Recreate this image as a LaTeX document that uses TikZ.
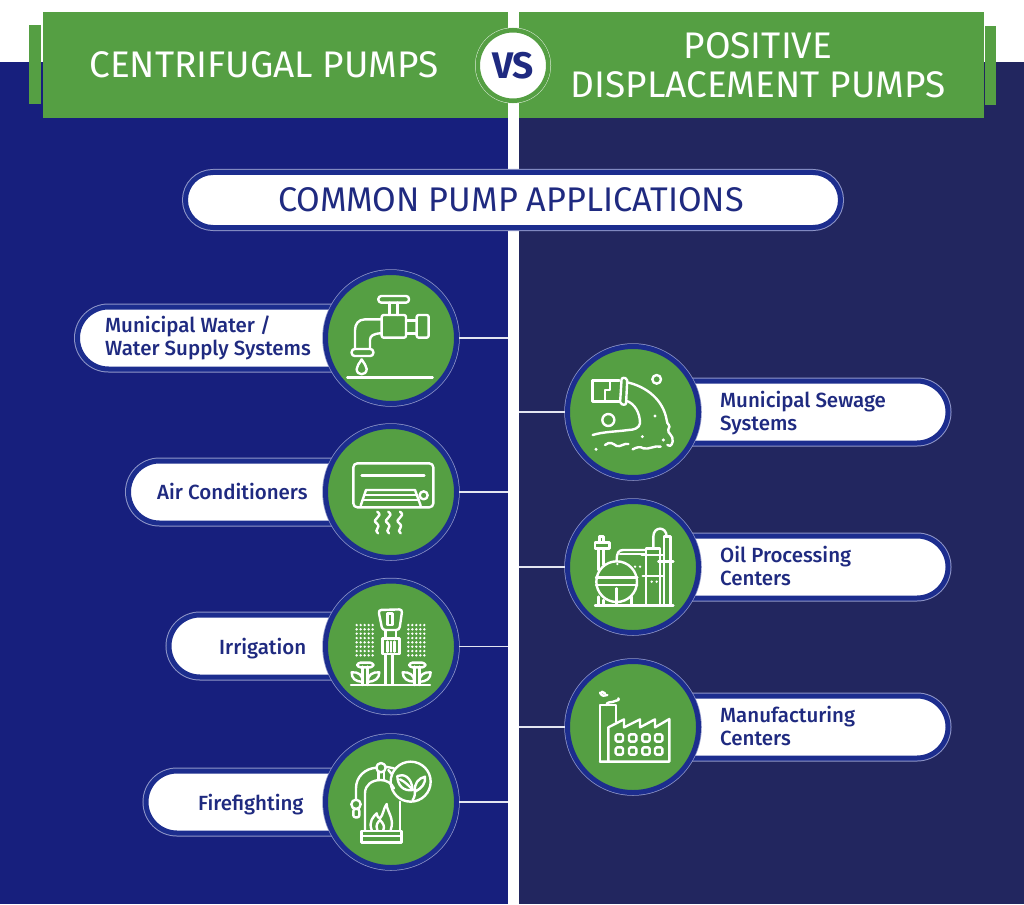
\documentclass[tikz,border=0pt]{standalone}
\usepackage{fontspec}
\setmainfont{Fira Sans}
\newfontfamily\labelfont{Fira Sans Medium}
\usetikzlibrary{shapes.misc}
\definecolor{leftblue}{HTML}{171F7D}
\definecolor{rightblue}{HTML}{22265F}
\definecolor{pumpgreen}{HTML}{559F43}
\definecolor{ringblue}{HTML}{1C2D8E}
\definecolor{textblue}{HTML}{1F2A80}
\definecolor{paleline}{HTML}{8F96C8}
\tikzset{
  header/.style={rectangle, fill=pumpgreen, draw=none, inner sep=0pt},
  headtext/.style={white, align=center, inner sep=0pt, font=\fontsize{37}{39}\selectfont},
  pill/.style={rounded rectangle, fill=white, draw=ringblue, line width=5pt, inner sep=0pt,
    minimum height=62pt, preaction={draw=paleline, line width=7pt}},
  pilltext/.style={textblue, align=left, inner sep=0pt, anchor=west, font=\labelfont\fontsize{20.5}{23}\selectfont},
  badge/.style={circle, fill=pumpgreen, draw=ringblue, line width=5pt, inner sep=0pt,
    minimum size=131pt, preaction={draw=paleline, line width=6.5pt}},
  link/.style={white!75!paleline, line width=1.2pt},
  icon/.style={white, line width=2.4pt, line cap=round, line join=round},
}
\begin{document}
\begin{tikzpicture}[x=1pt, y=-1pt]
\useasboundingbox (0,0) rectangle (1024,904);
\fill[white] (0,0) rectangle (1024,904);
\fill[leftblue] (0,62.5) rectangle (508,904);
\fill[rightblue] (519,62.5) rectangle (1024,904);

\node[header, minimum width=12pt, minimum height=79pt] (tabl) at (35,64.5) {};
\node[header, minimum width=11pt, minimum height=79pt] (tabr) at (990.5,65.5) {};
\node[header, minimum width=465pt, minimum height=106pt] (headl) at (275.5,65) {};
\node[header, minimum width=465pt, minimum height=106pt] (headr) at (751.5,65) {};
\node[headtext] (titlel) at (264,65) {CENTRIFUGAL PUMPS};
\node[headtext] (titler) at (758,65) {POSITIVE\\DISPLACEMENT PUMPS};
\node[circle, fill=white, draw=pumpgreen, line width=4.5pt, minimum size=70.5pt, inner sep=0pt,
  preaction={draw=white!80!pumpgreen, line width=5.5pt}, text=textblue, font=\bfseries\fontsize{37}{37}\selectfont] (vs) at (513,65.5) {VS};

\node[pill, minimum width=655pt, minimum height=55pt] (common) at (513,200) {};
\node[textblue, inner sep=0pt, font=\fontsize{34.2}{34}\selectfont] (commontext) at (511,200) {COMMON PUMP APPLICATIONS};

\coordinate (e1) at (508,338);
\coordinate (e2) at (508,492);
\coordinate (e3) at (508,646.5);
\coordinate (e4) at (508,802);
\coordinate (e5) at (519,412);
\coordinate (e6) at (519,567);
\coordinate (e7) at (519,727);

\node[pill, minimum width=322.5pt] (p1) at (238.75,338) {};
\node[pill, minimum width=271.5pt] (p2) at (264.25,492) {};
\node[pill, minimum width=231pt] (p3) at (284.5,646) {};
\node[pill, minimum width=254pt] (p4) at (273,802) {};
\node[pill, minimum width=328pt] (p5) at (784,412) {};
\node[pill, minimum width=328pt] (p6) at (784,567) {};
\node[pill, minimum width=328pt] (p7) at (784,727) {};

\node[badge] (b1) at (391,338) {};
\node[badge] (b2) at (391,492) {};
\node[badge] (b3) at (391,646.5) {};
\node[badge] (b4) at (391,802) {};
\node[badge] (b5) at (633,412) {};
\node[badge] (b6) at (633,567) {};
\node[badge] (b7) at (633,727) {};

\draw[link] (b1) -- (e1);
\draw[link] (b2) -- (e2);
\draw[link] (b3) -- (e3);
\draw[link] (b4) -- (e4);
\draw[link] (b5) -- (e5);
\draw[link] (b6) -- (e6);
\draw[link] (b7) -- (e7);

\node[pilltext] (t1) at (105,338) {Municipal Water /\\Water Supply Systems};
\node[pilltext] (t2) at (157,491.5) {Air Conditioners};
\node[pilltext] (t3) at (219,648.5) {Irrigation};
\node[pilltext] (t4) at (198,804.5) {Firefighting};
\node[pilltext] (t5) at (720,413) {Municipal Sewage\\Systems};
\node[pilltext] (t6) at (720,565.5) {Oil Processing\\Centers};
\node[pilltext] (t7) at (720,725.5) {Manufacturing\\Centers};

\begin{scope}[shift={(320,265)}, x=1/3*1pt, y=-1/3*1pt, icon]
\draw[rounded corners=3pt] (175,93) rectangle (267,113);
\draw (208,113) -- (208,150) (232,113) -- (232,150);
\draw[rounded corners=2pt] (185,150) rectangle (258,218);
\draw (258,167) -- (290,167) (258,205) -- (290,205);
\draw[rounded corners=2pt] (290,150) rectangle (326,218);
\draw (185,163) -- (135,163) .. controls (115,163) and (105,178) .. (105,195) -- (105,252);
\draw (150,252) -- (150,225) .. controls (150,213) and (160,205) .. (185,205);
\draw[rounded corners=3pt] (95,252) rectangle (160,273);
\draw (125,283) .. controls (118,296) and (110,302) .. (110,312) .. controls (110,333) and (140,333) .. (140,312) .. controls (140,302) and (132,296) .. (125,283);
\draw (82,337) -- (338,337);
\draw[rounded corners=4pt] (100,595) rectangle (340,727);
\draw (125,632) -- (313,632);
\draw (122,722) -- (138,675) -- (285,675) -- (302,722);
\draw (132,690) -- (292,690) (128,705) -- (297,705);
\draw (311,691) circle (12);
\foreach \sx in {172,205,240}
  \draw (\sx,740) .. controls (\sx+22,755) and (\sx-22,762) .. (\sx-2,775) .. controls (\sx+14,788) and (\sx-14,795) .. (\sx+2,805);
\end{scope}

\begin{scope}[shift={(320,570)}, x=1/3*1pt, y=-1/3*1pt, icon]
\draw[rounded corners=3pt] (175,120) -- (247,118) -- (238,180) -- (187,180) -- cycle;
\draw (203,130) rectangle (218,165);
\draw (197,180) -- (197,205) (228,180) -- (228,205);
\draw (188,205) rectangle (238,252);
\draw (202,215) -- (202,245) (213,215) -- (213,245) (224,215) -- (224,245);
\draw (197,252) -- (197,342) (218,252) -- (218,342);
\draw (93,345) -- (330,345);
\foreach \dy in {165,178,...,260} {
  \foreach \dx in {110,122,...,160} \fill (\dx,\dy) circle (4);
  \foreach \dx in {265,277,...,315} \fill (\dx,\dy) circle (4);
}
\draw (128,290) -- (128,345) (143,290) -- (143,345);
\draw[rounded corners=3pt] (112,278) rectangle (160,292);
\draw (128,335) .. controls (105,335) and (95,325) .. (95,307) .. controls (115,305) and (128,315) .. (128,335);
\draw (143,335) .. controls (165,335) and (178,325) .. (178,307) .. controls (158,305) and (143,315) .. (143,335);
\draw (283,290) -- (283,345) (298,290) -- (298,345);
\draw[rounded corners=3pt] (268,278) rectangle (316,292);
\draw (283,335) .. controls (262,335) and (248,325) .. (248,307) .. controls (268,305) and (283,315) .. (283,335);
\draw (298,335) .. controls (320,335) and (332,325) .. (332,307) .. controls (312,305) and (298,315) .. (298,335);
\draw (135,780) -- (135,670) .. controls (135,645) and (155,630) .. (182,630) .. controls (200,630) and (215,640) .. (222,655);
\draw (240,695) -- (240,780);
\draw (125,783) rectangle (245,817);
\draw (125,798) -- (245,798);
\draw (108,690) -- (108,655) .. controls (108,620) and (135,595) .. (170,593);
\draw (183,593) circle (14);
\draw (175,607) -- (175,630) (192,607) -- (192,630);
\draw (197,590) -- (222,595) (205,600) -- (215,612);
\draw (108,703) circle (14);
\draw[rounded corners=2pt] (100,717) rectangle (118,742);
\draw (272,635) circle (60);
\draw (155,780) .. controls (145,755) and (160,740) .. (170,730) .. controls (172,740) and (175,745) .. (180,745) .. controls (190,735) and (190,715) .. (200,702) .. controls (200,725) and (225,745) .. (212,780);
\draw (172,780) .. controls (165,765) and (175,755) .. (180,750) .. controls (190,760) and (195,770) .. (190,780);
\draw (232,618) .. controls (250,610) and (275,620) .. (278,660) .. controls (250,665) and (232,645) .. (232,618);
\draw (240,628) .. controls (255,635) and (270,650) .. (278,660);
\draw (285,665) .. controls (282,640) and (295,625) .. (315,620) .. controls (318,640) and (305,655) .. (285,665);
\draw (278,690) .. controls (285,680) and (285,670) .. (285,660);
\end{scope}

\begin{scope}[shift={(520,340)}, x=1/3*1pt, y=-1/3*1pt, icon]
\draw (298,122) -- (218,122) -- (218,185) -- (298,185);
\draw (255,185) -- (255,150) -- (270,150) -- (270,122);
\draw[rounded corners=2pt] (305,113) -- (322,115) -- (318,195) -- (300,192) -- cycle;
\draw (322,127) .. controls (380,140) and (430,180) .. (440,240) .. controls (440,255) and (455,255) .. (445,268) .. controls (440,280) and (462,285) .. (458,305) .. controls (455,320) and (445,320) .. (442,315);
\draw (318,182) .. controls (345,190) and (360,220) .. (360,250) .. controls (358,265) and (340,270) .. (325,270);
\draw (218,285) .. controls (250,275) and (290,275) .. (325,270);
\draw (265,240) circle (18);
\draw (410,118) circle (13);
\draw (255,315) .. controls (270,302) and (280,312) .. (290,318) .. controls (300,322) and (315,308) .. (325,312);
\draw (338,328) .. controls (350,322) and (360,318) .. (370,325) .. controls (385,330) and (405,315) .. (422,320);
\fill (228,328) circle (5);
\fill (405,228) circle (5);
\fill (367,290) circle (5);
\fill (430,300) circle (5);
\draw (225,797) -- (460,797);
\draw (290,725) circle (61);
\draw (228,712) -- (352,712) (228,735) -- (352,735);
\draw (235,625) -- (235,690) (250,625) -- (250,675);
\draw (238,608) -- (238,590) -- (250,590) -- (250,608);
\draw (225,608) -- (268,608) -- (268,625) -- (225,625) -- cycle;
\draw (235,770) -- (235,797) (250,780) -- (250,797) (290,745) -- (290,797) (335,770) -- (335,797);
\draw (290,660) .. controls (290,640) and (295,630) .. (310,630) -- (378,630);
\draw (300,642) -- (378,642);
\draw (378,797) -- (378,625) -- (420,625) -- (420,797);
\draw (432,797) -- (432,590) -- (452,590) -- (452,797);
\draw (400,625) -- (400,590) .. controls (400,558) and (440,558) .. (440,590);
\draw (365,645) -- (430,645) (415,665) -- (460,665) (368,708) -- (430,708);
\fill (345,680) circle (4) (360,680) circle (4) (395,725) circle (4) (410,725) circle (4) (292,672) circle (4);
\end{scope}

\begin{scope}[shift={(550,650)}, x=1/3*1pt, y=-1/3*1pt, icon]
\draw (150,335) -- (150,165) -- (198,165) -- (198,215);
\draw (175,335) -- (175,232) -- (222,208) -- (222,232) -- (270,208) -- (270,232) -- (315,208) -- (315,232) -- (358,207) -- (358,335) -- (150,335) -- cycle;
\foreach \wx in {197,237,277,315} {
  \draw[rounded corners=1.5pt] (\wx,253) rectangle +(22,22);
  \draw[rounded corners=1.5pt] (\wx,292) rectangle +(22,22);
}
\draw (170,165) .. controls (170,155) and (180,158) .. (190,155) .. controls (200,150) and (210,152) .. (205,145);
\draw (150,128) .. controls (155,140) and (165,138) .. (172,135);
\draw (155,125) -- (165,130);
\end{scope}
\end{tikzpicture}
\end{document}
